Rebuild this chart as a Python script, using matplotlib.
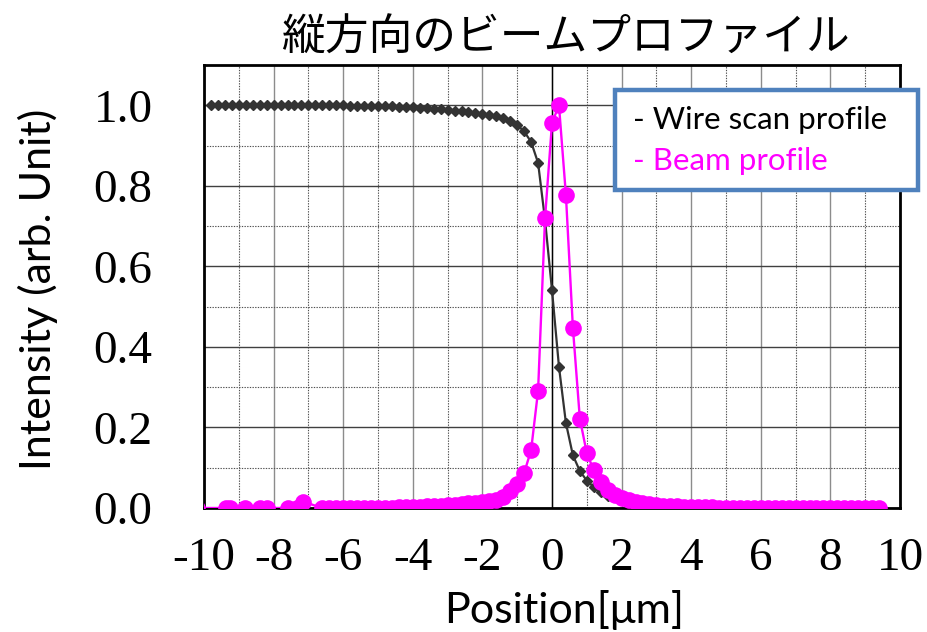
import matplotlib.pyplot as plt
from matplotlib.patches import Rectangle
from matplotlib.ticker import MultipleLocator

# wire scan (edge) profile, position in um
wire_x = [-9.8, -9.6, -9.4, -9.2, -9.0, -8.8, -8.6, -8.4, -8.2, -8.0,
          -7.8, -7.6, -7.4, -7.2, -7.0, -6.8, -6.6, -6.4, -6.2, -6.0,
          -5.8, -5.6, -5.4, -5.2, -5.0, -4.8, -4.6, -4.4, -4.2, -4.0,
          -3.8, -3.6, -3.4, -3.2, -3.0, -2.8, -2.6, -2.4, -2.2, -2.0,
          -1.8, -1.6, -1.4, -1.2, -1.0, -0.8, -0.6, -0.4, -0.2, 0.0,
          0.2, 0.4, 0.6, 0.8, 1.0, 1.2, 1.4, 1.6]
wire_y = [1.000, 1.000, 1.000, 1.000, 1.000, 1.000, 1.000, 1.000, 1.000, 1.000,
          1.000, 1.000, 1.000, 1.000, 1.000, 1.000, 1.000, 1.000, 1.000, 1.000,
          0.999, 0.999, 0.999, 0.998, 0.998, 0.997, 0.997, 0.996, 0.995, 0.995,
          0.994, 0.992, 0.991, 0.990, 0.988, 0.987, 0.985, 0.983, 0.981, 0.979,
          0.976, 0.973, 0.968, 0.961, 0.951, 0.935, 0.909, 0.857, 0.715, 0.541,
          0.351, 0.211, 0.131, 0.092, 0.068, 0.052, 0.040, 0.031]

# beam profile (derivative of the wire scan)
beam_x = [-10.2, -9.38, -9.24, -8.82, -8.39, -8.19, -7.59, -7.33, -7.16,
          -6.6, -6.4, -6.2, -6.0, -5.8, -5.6, -5.4, -5.2, -5.0, -4.8,
          -4.6, -4.4, -4.2, -4.0, -3.8, -3.6, -3.4, -3.2, -3.0, -2.8,
          -2.6, -2.4, -2.2, -2.0, -1.8, -1.6, -1.4, -1.2, -1.0, -0.8,
          -0.6, -0.4, -0.2, 0.0, 0.2, 0.4, 0.6, 0.8, 1.0, 1.2,
          1.4, 1.6, 1.8, 2.0, 2.2, 2.4, 2.6, 2.8, 3.0, 3.2,
          3.4, 3.6, 3.8, 4.0, 4.2, 4.4, 4.6, 4.8, 5.0, 5.2,
          5.4, 5.6, 5.8, 6.0, 6.2, 6.4, 6.6, 6.8, 7.0, 7.2,
          7.4, 7.6, 7.8, 8.0, 8.2, 8.4, 8.6, 8.8, 9.0, 9.2, 9.4]
beam_y = [0.000, 0.000, 0.000, 0.000, 0.000, 0.000, 0.000, 0.000, 0.016,
          0.000, 0.000, 0.000, 0.000, 0.000, 0.000, 0.001, 0.001, 0.001, 0.001,
          0.001, 0.002, 0.002, 0.002, 0.003, 0.004, 0.005, 0.006, 0.007, 0.008,
          0.010, 0.012, 0.013, 0.015, 0.017, 0.020, 0.028, 0.042, 0.060, 0.087,
          0.144, 0.291, 0.720, 0.956, 1.000, 0.777, 0.448, 0.222, 0.136, 0.094,
          0.065, 0.045, 0.032, 0.024, 0.019, 0.015, 0.012, 0.010, 0.008, 0.006,
          0.005, 0.004, 0.003, 0.003, 0.002, 0.002, 0.002, 0.001, 0.001, 0.001,
          0.001, 0.001, 0.001, 0.001, 0.000, 0.000, 0.000, 0.000, 0.000, 0.000,
          0.000, 0.000, 0.000, 0.000, 0.000, 0.000, 0.000, 0.000, 0.000, 0.000, 0.000]

x_ticks = [-10, -8, -6, -4, -2, 0, 2, 4, 6, 8, 10]
y_ticks = [0.0, 0.2, 0.4, 0.6, 0.8, 1.0]

fig = plt.figure(figsize=(9.27, 6.32), dpi=100)
ax = fig.add_axes([204 / 927, 124 / 632, 696 / 927, 443 / 632])

ax.plot(wire_x, wire_y, color="#333333", linewidth=1.6, marker="D",
        markersize=5, zorder=3)
ax.plot(beam_x, beam_y, color="#FF00FF", linewidth=1.7, marker="o",
        markersize=12, markeredgewidth=0, zorder=4)

ax.set_xlim(-10, 10)
ax.set_ylim(0, 1.1)
ax.set_xticks(x_ticks)
ax.set_yticks(y_ticks)
ax.set_xticklabels([str(t) for t in x_ticks])
ax.set_yticklabels([f"{t:.1f}" for t in y_ticks])
ax.xaxis.set_minor_locator(MultipleLocator(1))
ax.yaxis.set_minor_locator(MultipleLocator(0.1))

ax.grid(which="major", axis="x", color="#8c8c8c", linewidth=1.0, linestyle="-")
ax.grid(which="major", axis="y", color="#404040", linewidth=1.0, linestyle="-")
ax.grid(which="minor", color="#505050", linewidth=0.8, linestyle=(0, (1.2, 1.2)))
ax.set_axisbelow(True)
ax.axvline(0, color="black", linewidth=1.0, zorder=1)

for s in ax.spines.values():
    s.set_linewidth(2.0)
    s.set_color("black")

ax.tick_params(which="both", length=0)
ax.tick_params(axis="y", pad=37)
ax.tick_params(axis="x", pad=21)
for lab in ax.get_xticklabels() + ax.get_yticklabels():
    lab.set_fontfamily("Liberation Serif")
    lab.set_fontsize(34)

fig.text(565 / 927, 1 - 38 / 632, "縦方向のビームプロファイル",
         family=["Noto Sans CJK JP", "DejaVu Sans"], fontsize=31.5,
         ha="center", va="center")
fig.text(38 / 927, 1 - 289 / 632, "Intensity (arb. Unit)", family="Lato",
         fontsize=31, rotation=90, ha="center", va="center")
fig.text(564 / 927, 1 - 610 / 632, "Position[μm]", family="Lato",
         fontsize=31, ha="center", va="center")

# legend box drawn on the figure, overhanging the right spine
fig.patches.append(Rectangle((615 / 927, 1 - 190 / 632), 303 / 927, 100 / 632,
                             transform=fig.transFigure, facecolor="white",
                             edgecolor="#4F81BD", linewidth=3.2, zorder=10))
fig.text(633 / 927, 1 - 120 / 632, "- Wire scan profile", family="Lato",
         fontsize=22.5, color="black", ha="left", va="center", zorder=11)
fig.text(633 / 927, 1 - 161 / 632, "- Beam profile", family="Lato",
         fontsize=22.5, color="#FF00FF", ha="left", va="center", zorder=11)

fig.savefig("out.png", dpi=100)
